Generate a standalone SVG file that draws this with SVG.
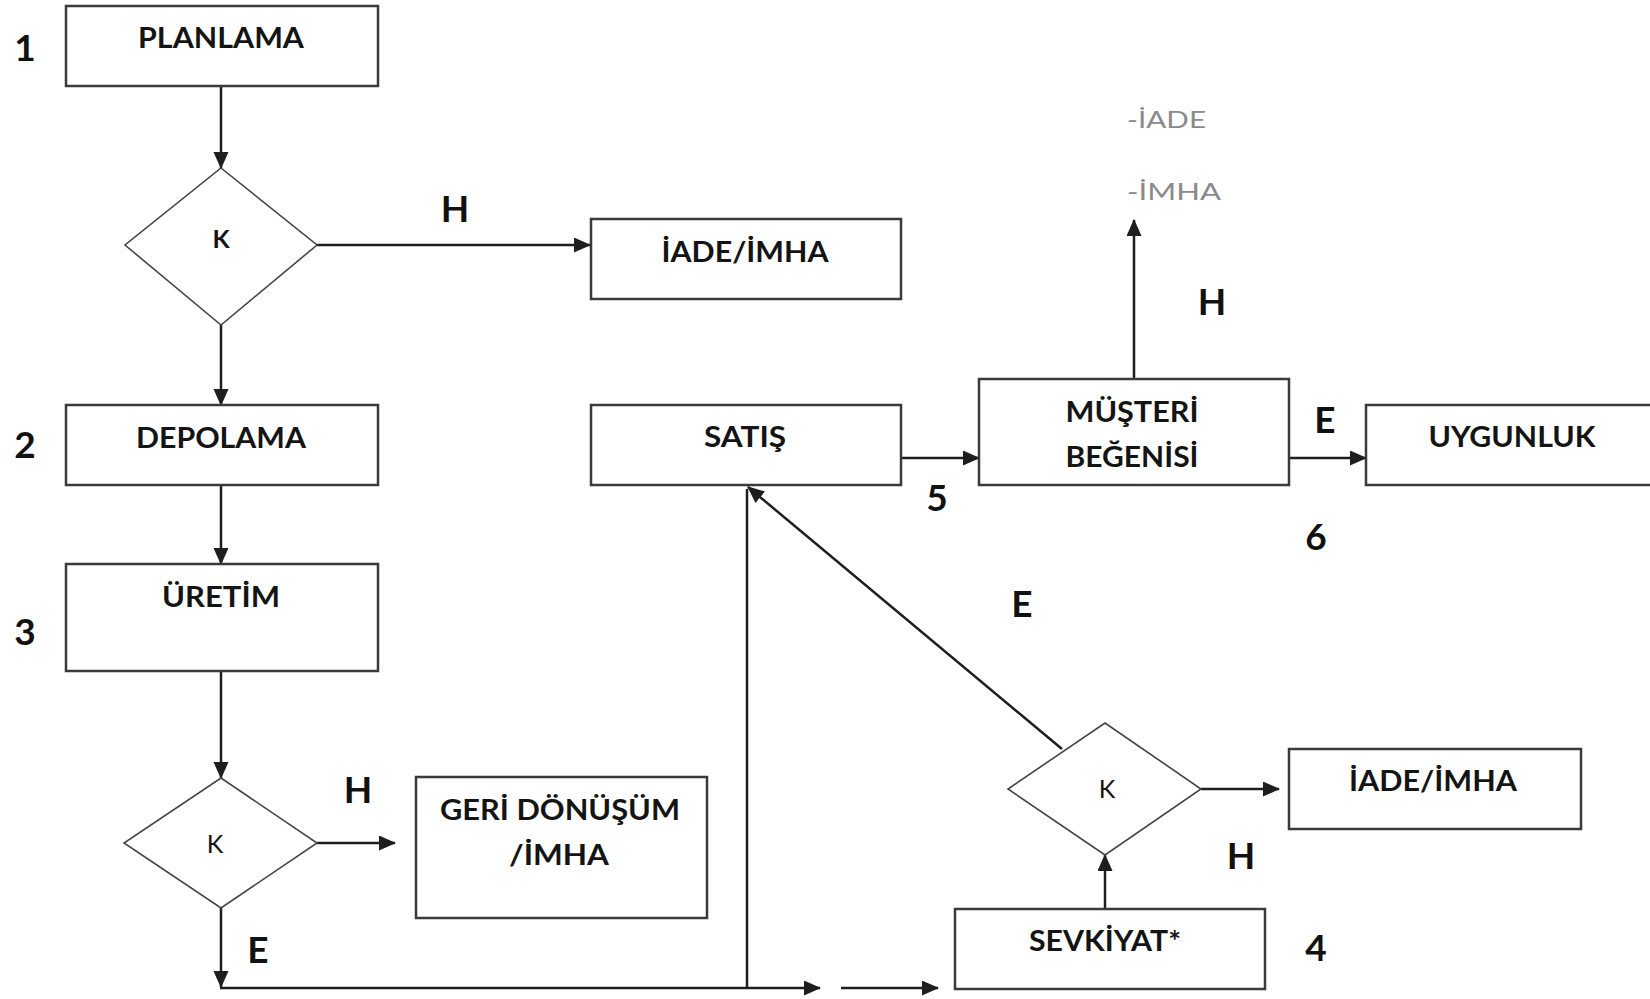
<svg xmlns="http://www.w3.org/2000/svg" width="1650" height="999" viewBox="0 0 1650 999">
  <defs>
    <marker id="arrow" markerUnits="userSpaceOnUse" markerWidth="18" markerHeight="16" refX="16" refY="7.5" orient="auto">
      <path d="M0,0 L17,7.5 L0,15 z" fill="#1e1e1e"/>
    </marker>
    <style>
      .box { fill: #ffffff; stroke: #3a3a3a; stroke-width: 2.5; }
      .dia { fill: #ffffff; stroke: #454545; stroke-width: 1.6; }
      .conn { fill: none; stroke: #1e1e1e; stroke-width: 2.5; }
      .t { font-family: Lato, "Liberation Sans", "Noto Sans", sans-serif; font-weight: 700; font-size: 28px; fill: #141414; text-anchor: middle; }
      .k { font-family: Lato, "Liberation Sans", sans-serif; font-size: 25px; fill: #141414; text-anchor: middle; }
      .lbl { font-family: Lato, "Liberation Sans", sans-serif; font-weight: 700; font-size: 37px; fill: #111111; text-anchor: middle; }
      .note { font-family: Lato, "Liberation Sans", sans-serif; font-size: 23px; fill: #8a8a8a; }
    </style>
  </defs>
  <rect width="1650" height="999" fill="#ffffff"/>

  <!-- connectors -->
  <g id="connectors">
    <line class="conn" x1="221" y1="86" x2="221" y2="168" marker-end="url(#arrow)"/>
    <line class="conn" x1="317" y1="245" x2="590" y2="245" marker-end="url(#arrow)"/>
    <line class="conn" x1="221" y1="325" x2="221" y2="405" marker-end="url(#arrow)"/>
    <line class="conn" x1="221" y1="485" x2="221" y2="564" marker-end="url(#arrow)"/>
    <line class="conn" x1="221" y1="671" x2="221" y2="778" marker-end="url(#arrow)"/>
    <line class="conn" x1="317" y1="843" x2="395" y2="843" marker-end="url(#arrow)"/>
    <line class="conn" x1="221" y1="908" x2="221" y2="987" marker-end="url(#arrow)"/>
    <line class="conn" x1="220" y1="988" x2="820" y2="988" marker-end="url(#arrow)"/>
    <line class="conn" x1="747" y1="988" x2="747" y2="489"/>
    <line class="conn" x1="841" y1="988" x2="938" y2="988" marker-end="url(#arrow)"/>
    <line class="conn" x1="1105" y1="908" x2="1105" y2="855" marker-end="url(#arrow)"/>
    <line class="conn" x1="1201" y1="789" x2="1279" y2="789" marker-end="url(#arrow)"/>
    <line class="conn" x1="1062" y1="749" x2="748" y2="487" marker-end="url(#arrow)"/>
    <line class="conn" x1="901" y1="458" x2="979" y2="458" marker-end="url(#arrow)"/>
    <line class="conn" x1="1134" y1="379" x2="1134" y2="220" marker-end="url(#arrow)"/>
    <line class="conn" x1="1289" y1="458" x2="1366" y2="458" marker-end="url(#arrow)"/>
  </g>

  <!-- step numbers and branch labels -->
  <g id="labels">
    <text class="lbl" x="25" y="61">1</text>
    <text class="lbl" x="25" y="458">2</text>
    <text class="lbl" x="25" y="645">3</text>
    <text class="lbl" x="1316" y="961">4</text>
    <text class="lbl" x="937" y="511">5</text>
    <text class="lbl" x="1316" y="550">6</text>
    <text class="lbl" x="455" y="222">H</text>
    <text class="lbl" x="1212" y="315">H</text>
    <text class="lbl" x="358" y="803">H</text>
    <text class="lbl" x="1241" y="869">H</text>
    <text class="lbl" x="1325" y="433">E</text>
    <text class="lbl" x="1022" y="617">E</text>
    <text class="lbl" x="258" y="963">E</text>
    <text class="note" x="1127" y="128" textLength="79" lengthAdjust="spacingAndGlyphs">-İADE</text>
    <text class="note" x="1127" y="200" textLength="94" lengthAdjust="spacingAndGlyphs">-İMHA</text>
  </g>

  <g id="planlama">
    <rect class="box" x="66" y="6" width="312" height="80"/>
    <text class="t" x="221" y="48" textLength="166" lengthAdjust="spacingAndGlyphs">PLANLAMA</text>
  </g>

  <g id="kontrol1">
    <polygon class="dia" points="221,168 317,245 221,325 125,245"/>
    <text class="k" x="221" y="248" font-weight="700">K</text>
  </g>

  <g id="iade-imha-1">
    <rect class="box" x="591" y="219" width="310" height="80"/>
    <text class="t" x="745" y="262" textLength="167" lengthAdjust="spacingAndGlyphs">İADE/İMHA</text>
  </g>

  <g id="depolama">
    <rect class="box" x="66" y="405" width="312" height="80"/>
    <text class="t" x="221" y="448" textLength="170" lengthAdjust="spacingAndGlyphs">DEPOLAMA</text>
  </g>

  <g id="uretim">
    <rect class="box" x="66" y="564" width="312" height="107"/>
    <text class="t" x="221" y="607" textLength="118" lengthAdjust="spacingAndGlyphs">ÜRETİM</text>
  </g>

  <g id="kontrol2">
    <polygon class="dia" points="221,778 317,843 221,908 124,843"/>
    <text class="k" x="215" y="853">K</text>
  </g>

  <g id="geri-donusum">
    <rect class="box" x="416" y="777" width="291" height="141"/>
    <text class="t" x="560" y="820" textLength="240" lengthAdjust="spacingAndGlyphs">GERİ DÖNÜŞÜM</text>
    <text class="t" x="559" y="865" textLength="100" lengthAdjust="spacingAndGlyphs">/İMHA</text>
  </g>

  <g id="satis">
    <rect class="box" x="591" y="405" width="310" height="80"/>
    <text class="t" x="745" y="447" textLength="82" lengthAdjust="spacingAndGlyphs">SATIŞ</text>
  </g>

  <g id="musteri-begenisi">
    <rect class="box" x="979" y="379" width="310" height="106"/>
    <text class="t" x="1132" y="422" textLength="133" lengthAdjust="spacingAndGlyphs">MÜŞTERİ</text>
    <text class="t" x="1132" y="467" textLength="133" lengthAdjust="spacingAndGlyphs">BEĞENİSİ</text>
  </g>

  <g id="uygunluk">
    <rect class="box" x="1366" y="405" width="300" height="80"/>
    <text class="t" x="1512" y="447" textLength="167" lengthAdjust="spacingAndGlyphs">UYGUNLUK</text>
  </g>

  <g id="kontrol3">
    <polygon class="dia" points="1105,723 1201,789 1105,855 1008,789"/>
    <text class="k" x="1107" y="798">K</text>
  </g>

  <g id="iade-imha-2">
    <rect class="box" x="1289" y="749" width="292" height="80"/>
    <text class="t" x="1433" y="791" textLength="168" lengthAdjust="spacingAndGlyphs">İADE/İMHA</text>
  </g>

  <g id="sevkiyat">
    <rect class="box" x="955" y="909" width="310" height="80"/>
    <text class="t" x="1105" y="951" textLength="152" lengthAdjust="spacingAndGlyphs">SEVKİYAT*</text>
  </g>
</svg>
